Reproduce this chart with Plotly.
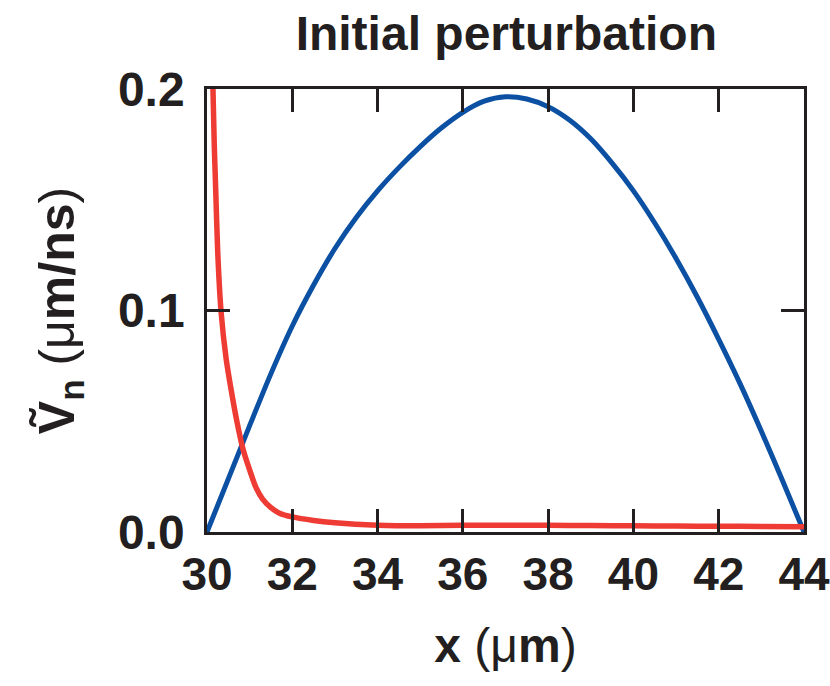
import plotly.graph_objects as go

# Blue curve
x_blue = [30, 30.5, 31, 31.5, 32, 32.5, 33, 33.5, 34, 34.5, 35, 35.5, 36, 36.5, 37,
          37.5, 38, 38.5, 39, 39.5, 40, 40.5, 41, 41.5, 42, 42.5, 43, 43.5, 44]
y_blue = [0, 0.024, 0.048, 0.0715, 0.093, 0.1115, 0.128, 0.142, 0.154, 0.1645, 0.174, 0.1825,
          0.1895, 0.1945, 0.1965, 0.1955, 0.192, 0.186, 0.1775, 0.1665, 0.154, 0.1395, 0.1235,
          0.106, 0.087, 0.067, 0.0455, 0.023, 0]

# Red curve
x_red = [30.14, 30.17, 30.2, 30.25, 30.33, 30.45, 30.55, 30.7, 30.85, 31.0, 31.15, 31.3,
         31.5, 31.7, 32.0, 32.5, 33, 34, 35, 36, 37, 38, 39, 40, 41, 42, 43, 44]
y_red = [0.2, 0.175, 0.157, 0.127, 0.0995, 0.078, 0.066, 0.05, 0.037, 0.028, 0.020, 0.015,
         0.011, 0.0085, 0.0068, 0.0052, 0.0042, 0.0031, 0.0028, 0.003, 0.0031, 0.003,
         0.0029, 0.0028, 0.0027, 0.0026, 0.0025, 0.0024]

x_ticks = [30, 32, 34, 36, 38, 40, 42, 44]
y_ticks = [0.0, 0.1, 0.2]
y_ticklabels = ["0.0", "0.1", "0.2"]

FONT = "Liberation Sans, Arial, sans-serif"
INK = "#231f20"

fig = go.Figure()
fig.add_trace(go.Scatter(x=x_blue, y=y_blue, mode="lines",
                         line=dict(color="#0b50a2", width=5, shape="spline", smoothing=0.8),
                         showlegend=False))
fig.add_trace(go.Scatter(x=x_red, y=y_red, mode="lines",
                         line=dict(color="#ee3b33", width=5.5, shape="spline", smoothing=0.6),
                         showlegend=False))

fig.update_layout(
    width=830, height=686,
    margin=dict(l=207, r=26, t=89, b=154),
    paper_bgcolor="white", plot_bgcolor="white",
    font=dict(family=FONT, color=INK),
    title=dict(text="<b>Initial perturbation</b>", x=0.61, xanchor="center", y=0.952, yanchor="middle",
               font=dict(size=48, family=FONT, color=INK)),
)
fig.update_xaxes(
    range=[30, 44], tickvals=x_ticks, ticktext=[f"<b>{v}</b>" for v in x_ticks],
    ticks="inside", ticklen=23, tickwidth=2.5, tickcolor=INK,
    showline=True, linewidth=2.5, linecolor=INK, mirror="ticks",
    showgrid=False, zeroline=False, ticklabeloverflow="allow", automargin=False,
    tickfont=dict(size=46, family=FONT, color=INK),
    title=dict(text="<b>x</b> (μ<b>m</b>)", font=dict(size=48, family=FONT, color=INK), standoff=30),
)
fig.update_yaxes(
    range=[0, 0.2], tickvals=y_ticks, ticktext=[f"<b>{t}</b>" for t in y_ticklabels],
    ticks="inside", ticklen=23, tickwidth=2.5, tickcolor=INK,
    showline=True, linewidth=2.5, linecolor=INK, mirror="ticks",
    showgrid=False, zeroline=False, ticklabelstandoff=10, automargin=False,
    tickfont=dict(size=48, family=FONT, color=INK),
    title=dict(text="<b>Ṽ<sub>n</sub></b> (μ<b>m/ns</b>)", font=dict(size=50, family=FONT, color=INK), standoff=28),
)

fig.write_html("out.html")
